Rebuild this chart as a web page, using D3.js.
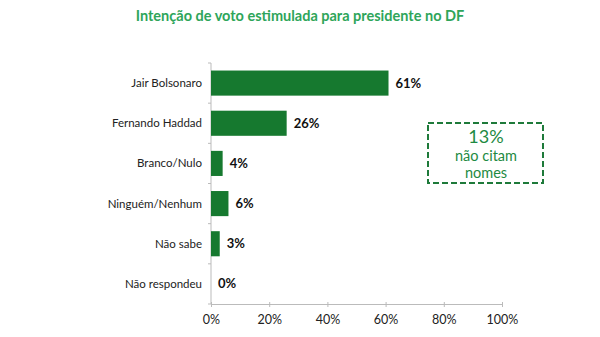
<!DOCTYPE html>
<html>
<head>
<meta charset="utf-8">
<script src="https://cdn.jsdelivr.net/npm/d3@7"></script>
<style>
  body { margin: 0; background: #fff; }
  text { font-family: Lato, sans-serif; }
</style>
</head>
<body>
<div id="chart"></div>
<script>
var categories = ["Jair Bolsonaro", "Fernando Haddad", "Branco/Nulo", "Ninguém/Nenhum", "Não sabe", "Não respondeu"];
var values = [61, 26, 4, 6, 3, 0];
var xTicks = [0, 20, 40, 60, 80, 100];
var title = "Intenção de voto estimulada para presidente no DF";
var noteLines = ["13%", "não citam", "nomes"];

var width = 600, height = 337;
var margin = {top: 63, left: 211, right: 98, bottom: 33};

var svg = d3.select("#chart").append("svg")
  .attr("width", width).attr("height", height);

svg.append("text")
  .attr("x", 300).attr("y", 21)
  .attr("text-anchor", "middle")
  .style("font-size", "14.5px").style("font-weight", "bold")
  .style("fill", "#2ea55a")
  .text(title);

var x = d3.scaleLinear().domain([0, 100]).range([margin.left, width - margin.right]);
var y = d3.scaleBand().domain(categories)
  .range([margin.top, height - margin.bottom]).paddingInner(0.375).paddingOuter(0.1875);

// x axis
var xAxis = svg.append("g")
  .attr("transform", "translate(0," + (height - margin.bottom) + ")")
  .call(d3.axisBottom(x).tickValues(xTicks).tickSize(3).tickPadding(8).tickFormat(function(d) { return d + "%"; }));
xAxis.select(".domain").attr("stroke", "#bbb");
xAxis.selectAll(".tick line").attr("stroke", "#bbb").attr("y1", -2);
xAxis.selectAll("text").style("font-size", "12.5px").style("fill", "#222").style("font-family", "Lato, sans-serif");

// y axis: ticks between categories
var bounds = [];
var step = y.step();
for (var i = 0; i <= categories.length; i++) bounds.push(margin.top + i * step);
svg.append("line")
  .attr("x1", margin.left).attr("x2", margin.left)
  .attr("y1", margin.top).attr("y2", height - margin.bottom)
  .attr("stroke", "#bbb");
svg.selectAll(".ytick").data(bounds).enter().append("line")
  .attr("x1", margin.left - 3).attr("x2", margin.left)
  .attr("y1", function(d) { return d; }).attr("y2", function(d) { return d; })
  .attr("stroke", "#bbb");

svg.selectAll(".cat").data(categories).enter().append("text")
  .attr("x", margin.left - 9)
  .attr("y", function(d) { return y(d) + y.bandwidth() / 2; })
  .attr("dy", "0.35em").attr("text-anchor", "end")
  .style("font-size", "11.5px").style("fill", "#222")
  .text(function(d) { return d; });

svg.selectAll(".bar").data(values).enter().append("rect")
  .attr("x", x(0))
  .attr("y", function(d, i) { return y(categories[i]); })
  .attr("width", function(d) { return x(d) - x(0); })
  .attr("height", y.bandwidth())
  .attr("fill", "#16792f");

svg.selectAll(".val").data(values).enter().append("text")
  .attr("x", function(d) { return x(d) + 7; })
  .attr("y", function(d, i) { return y(categories[i]) + y.bandwidth() / 2; })
  .attr("dy", "0.35em")
  .style("font-size", "13px").style("font-weight", "bold").style("fill", "#111")
  .text(function(d) { return d + "%"; });

// note box
var box = svg.append("g").attr("transform", "translate(428,123)");
box.append("rect").attr("width", 115).attr("height", 60)
  .attr("fill", "none").attr("stroke", "#1e7a3a").attr("stroke-width", 2)
  .attr("stroke-dasharray", "6,3");
box.selectAll("text").data(noteLines).enter().append("text")
  .attr("x", 58)
  .attr("y", function(d, i) { return [20, 38, 55][i]; })
  .attr("text-anchor", "middle")
  .style("font-size", function(d, i) { return i === 0 ? "18px" : "14.5px"; })
  .style("fill", "#1e8a42")
  .text(function(d) { return d; });
</script>
</body>
</html>
